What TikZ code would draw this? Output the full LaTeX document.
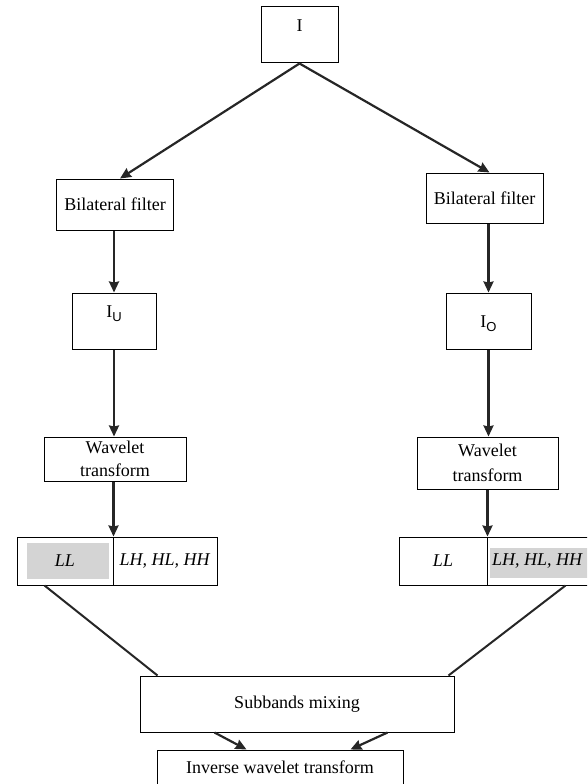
\documentclass[tikz,border=0pt]{standalone}
\usepackage{fontspec}
\setmainfont{Liberation Serif}
\newfontfamily\subfont{Liberation Sans}
\usetikzlibrary{arrows.meta}
\definecolor{bandgray}{RGB}{212,212,212}
\newcommand{\imgsub}[1]{I\raisebox{-4pt}{\fontsize{13}{13}\subfont #1}}

\begin{document}
\begin{tikzpicture}[x=1pt,y=-1pt,>={Stealth[length=11pt,width=10pt,inset=1pt]},
  block/.style={draw, line width=1pt, inner sep=0pt, align=center,
    font=\fontsize{18}{23}\selectfont},
  flow/.style={->, line width=2.2pt, draw=black!85},
  link/.style={line width=2pt, draw=black!85}]
  \clip (0,0) rectangle (587,784);

  % shaded subbands
  \fill[bandgray] (27,543) rectangle (109,579);
  \fill[bandgray] (490,548) rectangle (588,578);

  \node[block, minimum width=77, text height=25pt, text depth=31pt] (img) at (299.5,35) {I};

  \node[block, minimum width=117, minimum height=51] (bilatU) at (115,204.5) {Bilateral filter};
  \node[block, minimum width=117, minimum height=50] (bilatO) at (484.5,198) {Bilateral filter};

  \node[block, minimum width=84, text height=24pt, text depth=32pt] (imgU) at (114,321) {\imgsub{U}};
  \node[block, minimum width=85, text height=34pt, text depth=22pt] (imgO) at (488.5,321) {\imgsub{O}};

  \node[block, minimum width=142, minimum height=44] (waveU) at (115,459) {Wavelet\\transform};
  \node[block, minimum width=141, minimum height=52, font=\fontsize{18}{25}\selectfont] (waveO) at (487.5,463) {Wavelet\\transform};

  \node[block, minimum width=96, minimum height=48] (llU) at (65,561) {\textit{LL}};
  \node[block, minimum width=104, minimum height=48] (hU) at (165,561) {\textit{LH, HL, HH}};
  \node[block, minimum width=88, minimum height=48] (llO) at (443,561) {\textit{LL}};
  \node[block, minimum width=101, minimum height=48] (hO) at (537.5,561) {\textit{LH, HL, HH}};

  \node[block, minimum width=314, minimum height=56] (mix) at (297,704) {Subbands mixing};
  \node[block, minimum width=246, text height=23pt, text depth=27pt] (iwt) at (280,775) {Inverse wavelet transform};

  \draw[flow] (img.south) -- ([xshift=5pt]bilatU.north);
  \draw[flow] (img.south) -- ([xshift=5pt]bilatO.north);
  \draw[flow] (bilatU.south -| imgU.north) -- (imgU.north);
  \draw[flow] (bilatO.south -| imgO.north) -- (imgO.north);
  \draw[flow] (imgU.south) -- (imgU.south |- waveU.north);
  \draw[flow] (imgO.south) -- (imgO.south |- waveO.north);
  \draw[flow] (waveU.south -| llU.north east) -- (llU.north east);
  \draw[flow] (waveO.south -| llO.north east) -- (llO.north east);

  \draw[link] ([xshift=28pt]llU.south west) -- ([xshift=18pt]mix.north west);
  \draw[link] ([xshift=-23pt]hO.south east) -- ([xshift=-6pt]mix.north east);

  \draw[flow] ([xshift=75pt]mix.south west) -- ([xshift=90pt]iwt.north west);
  \draw[flow] ([xshift=-67pt]mix.south east) -- ([xshift=-53pt]iwt.north east);
\end{tikzpicture}
\end{document}
